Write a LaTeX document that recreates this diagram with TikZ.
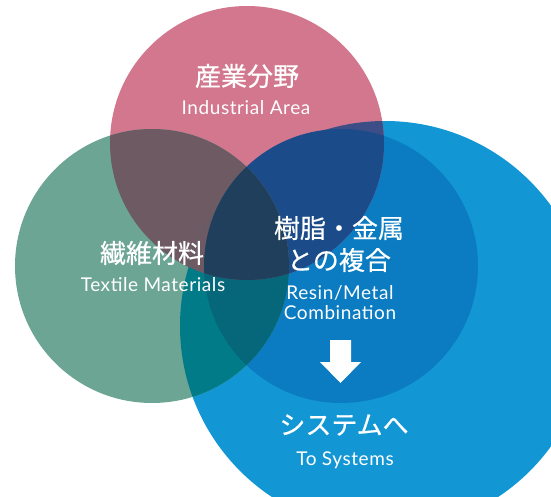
\documentclass[tikz,border=0pt]{standalone}
\usepackage{fontspec}
\newfontfamily\jpfont{Noto Sans CJK JP}[FakeBold=0.6]
\newfontfamily\enfont{Lato}[LetterSpace=3]
\definecolor{cLarge}{HTML}{1296D4}
\definecolor{cInner}{HTML}{0B7CC1}
\definecolor{cPink}{HTML}{D2778D}
\definecolor{cGreen}{HTML}{6DA595}
\definecolor{cPL}{HTML}{3D4E86}
\definecolor{cGL}{HTML}{007B87}
\definecolor{cPG}{HTML}{6D5A63}
\definecolor{cPI}{HTML}{1B4C89}
\definecolor{cGI}{HTML}{06667A}
\definecolor{cPGI}{HTML}{1F3F5C}
\tikzset{
  jalabel/.style={text=white, font=\jpfont\fontsize{26}{32}\selectfont, inner sep=0pt, align=center},
  enlabel/.style={text=white, font=\enfont\fontsize{19}{20}\selectfont, inner sep=0pt, align=center},
}
\begin{document}
\begin{tikzpicture}[x=1pt,y=1pt,yscale=-1]
    \useasboundingbox (0,0) rectangle (551,497);
    \clip (0,0) rectangle (551,497);
    % circles
    \def\largeC{(385,326) circle[radius=205]}
    \def\innerC{(341,266) circle[radius=137]}
    \def\pinkC{(247,143) circle[radius=137]}
    \def\greenC{(152,266) circle[radius=137]}
    \fill [cLarge] \largeC;
    \fill [cInner] \innerC;
    \fill [cPink] \pinkC;
    \fill [cGreen] \greenC;
    % overlaps
    \begin{scope}
      \clip \pinkC;
      \fill [cPL] \largeC;
      \fill [cPI] \innerC;
      \fill [cPG] \greenC;
    \end{scope}
    \begin{scope}
      \clip \greenC;
      \fill [cGL] \largeC;
      \fill [cGI] \innerC;
      \clip \pinkC;
      \fill [cPG] \largeC;
      \fill [cPGI] \innerC;
    \end{scope}
    % Arrow
    \fill [white] (330,340) -- (351,340) -- (351,362) -- (361,362) -- (340.5,383) -- (320,362) -- (330,362) -- cycle;

    % Text Node
    \node [jalabel] (indJa) at (247,76) {産業分野};
    % Text Node
    \node [enlabel] (indEn) at (246,108) {Industrial Area};
    % Text Node
    \node [jalabel] (texJa) at (152,253) {繊維材料};
    % Text Node
    \node [enlabel] (texEn) at (153,285) {Textile Materials};
    % Text Node
    \node [jalabel] (comJa) at (339,244) {樹脂・金属\\との複合};
    % Text Node
    \node [enlabel] (comEn) at (340,303) {Resin/Metal\\Combination};
    % Text Node
    \node [jalabel] (sysJa) at (344,425) {システムへ};
    % Text Node
    \node [enlabel] (sysEn) at (345,460) {To Systems};
\end{tikzpicture}
\end{document}
